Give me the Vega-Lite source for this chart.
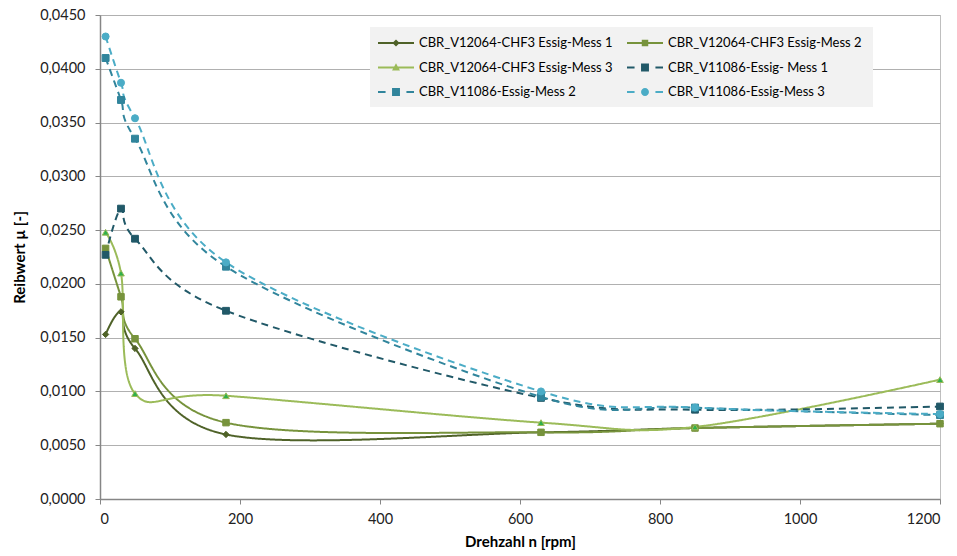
{
  "$schema": "https://vega.github.io/schema/vega-lite/v6.json",
  "autosize": "none",
  "padding": {"left": 100, "top": 15, "right": 17, "bottom": 57},
  "width": 840,
  "height": 484,
  "background": "white",
  "config": {
    "locale": {"number": {"decimal": ",", "thousands": ".", "grouping": [3], "currency": ["", " €"]}},
    "view": {"stroke": "#BFBFBF", "strokeWidth": 1},
    "font": "Lato",
    "axis": {
      "labelFont": "Lato",
      "labelFontSize": 14.5,
      "labelColor": "#222222",
      "titleFont": "Lato",
      "titleFontSize": 15,
      "titleFontWeight": "bold",
      "titleColor": "#000000",
      "domainColor": "#868686",
      "domainWidth": 1.5,
      "tickColor": "#868686",
      "tickSize": 5,
      "gridColor": "#B0B0B0",
      "gridWidth": 1.2
    }
  },
  "data": {
    "values": [
      {"series": "CBR_V12064-CHF3 Essig-Mess 1", "rpm": 8, "mu": 0.0153},
      {"series": "CBR_V12064-CHF3 Essig-Mess 1", "rpm": 30, "mu": 0.0174},
      {"series": "CBR_V12064-CHF3 Essig-Mess 1", "rpm": 50, "mu": 0.0140},
      {"series": "CBR_V12064-CHF3 Essig-Mess 1", "rpm": 180, "mu": 0.0060},
      {"series": "CBR_V12064-CHF3 Essig-Mess 1", "rpm": 630, "mu": 0.0062},
      {"series": "CBR_V12064-CHF3 Essig-Mess 1", "rpm": 850, "mu": 0.0066},
      {"series": "CBR_V12064-CHF3 Essig-Mess 1", "rpm": 1200, "mu": 0.0070},
      {"series": "CBR_V12064-CHF3  Essig-Mess 2", "rpm": 8, "mu": 0.0233},
      {"series": "CBR_V12064-CHF3  Essig-Mess 2", "rpm": 30, "mu": 0.0188},
      {"series": "CBR_V12064-CHF3  Essig-Mess 2", "rpm": 50, "mu": 0.0149},
      {"series": "CBR_V12064-CHF3  Essig-Mess 2", "rpm": 180, "mu": 0.0071},
      {"series": "CBR_V12064-CHF3  Essig-Mess 2", "rpm": 630, "mu": 0.0062},
      {"series": "CBR_V12064-CHF3  Essig-Mess 2", "rpm": 850, "mu": 0.0066},
      {"series": "CBR_V12064-CHF3  Essig-Mess 2", "rpm": 1200, "mu": 0.0070},
      {"series": "CBR_V12064-CHF3 Essig-Mess 3", "rpm": 8, "mu": 0.0248},
      {"series": "CBR_V12064-CHF3 Essig-Mess 3", "rpm": 30, "mu": 0.0210},
      {"series": "CBR_V12064-CHF3 Essig-Mess 3", "rpm": 50, "mu": 0.0098},
      {"series": "CBR_V12064-CHF3 Essig-Mess 3", "rpm": 180, "mu": 0.0096},
      {"series": "CBR_V12064-CHF3 Essig-Mess 3", "rpm": 630, "mu": 0.0071},
      {"series": "CBR_V12064-CHF3 Essig-Mess 3", "rpm": 850, "mu": 0.0067},
      {"series": "CBR_V12064-CHF3 Essig-Mess 3", "rpm": 1200, "mu": 0.0111},
      {"series": "CBR_V11086-Essig- Mess 1", "rpm": 8, "mu": 0.0227},
      {"series": "CBR_V11086-Essig- Mess 1", "rpm": 30, "mu": 0.0270},
      {"series": "CBR_V11086-Essig- Mess 1", "rpm": 50, "mu": 0.0242},
      {"series": "CBR_V11086-Essig- Mess 1", "rpm": 180, "mu": 0.0175},
      {"series": "CBR_V11086-Essig- Mess 1", "rpm": 630, "mu": 0.0094},
      {"series": "CBR_V11086-Essig- Mess 1", "rpm": 850, "mu": 0.0083},
      {"series": "CBR_V11086-Essig- Mess 1", "rpm": 1200, "mu": 0.0086},
      {"series": "CBR_V11086-Essig-Mess 2", "rpm": 8, "mu": 0.0410},
      {"series": "CBR_V11086-Essig-Mess 2", "rpm": 30, "mu": 0.0371},
      {"series": "CBR_V11086-Essig-Mess 2", "rpm": 50, "mu": 0.0335},
      {"series": "CBR_V11086-Essig-Mess 2", "rpm": 180, "mu": 0.0216},
      {"series": "CBR_V11086-Essig-Mess 2", "rpm": 630, "mu": 0.0095},
      {"series": "CBR_V11086-Essig-Mess 2", "rpm": 850, "mu": 0.0085},
      {"series": "CBR_V11086-Essig-Mess 2", "rpm": 1200, "mu": 0.0078},
      {"series": "CBR_V11086-Essig-Mess 3", "rpm": 8, "mu": 0.0430},
      {"series": "CBR_V11086-Essig-Mess 3", "rpm": 30, "mu": 0.0387},
      {"series": "CBR_V11086-Essig-Mess 3", "rpm": 50, "mu": 0.0354},
      {"series": "CBR_V11086-Essig-Mess 3", "rpm": 180, "mu": 0.0220},
      {"series": "CBR_V11086-Essig-Mess 3", "rpm": 630, "mu": 0.0100},
      {"series": "CBR_V11086-Essig-Mess 3", "rpm": 850, "mu": 0.0085},
      {"series": "CBR_V11086-Essig-Mess 3", "rpm": 1200, "mu": 0.0079}
    ]
  },
  "encoding": {
    "x": {
      "field": "rpm", "type": "quantitative",
      "scale": {"domain": [0, 1200], "nice": false},
      "axis": {"values": [0, 200, 400, 600, 800, 1000, 1200], "format": "d", "grid": false, "title": "Drehzahl n [rpm]", "labelPadding": 8, "titlePadding": 9}
    },
    "y": {
      "field": "mu", "type": "quantitative",
      "scale": {"domain": [0, 0.045], "nice": false},
      "axis": {"values": [0, 0.005, 0.01, 0.015, 0.02, 0.025, 0.03, 0.035, 0.04, 0.045], "format": ".4f", "title": "Reibwert µ [-]", "labelPadding": 10, "titlePadding": 12}
    }
  },
  "resolve": {
    "scale": {"shape": "independent", "size": "independent", "fill": "independent", "stroke": "independent", "strokeDash": "independent"},
    "legend": {"shape": "independent", "size": "independent", "fill": "independent", "stroke": "independent", "strokeDash": "independent"}
  },
  "layer": [
    {
      "mark": {"type": "line", "interpolate": "cardinal", "strokeWidth": 2},
      "encoding": {
        "color": {
          "field": "series", "type": "nominal",
          "scale": {
            "domain": ["CBR_V12064-CHF3 Essig-Mess 1", "CBR_V12064-CHF3  Essig-Mess 2", "CBR_V12064-CHF3 Essig-Mess 3", "CBR_V11086-Essig- Mess 1", "CBR_V11086-Essig-Mess 2", "CBR_V11086-Essig-Mess 3"],
            "range": ["#4F6228", "#77933C", "#9BBB59", "#215968", "#31859C", "#4BACC6"]
          },
          "legend": {
            "title": null,
            "orient": "none",
            "legendX": 270,
            "legendY": 12,
            "direction": "horizontal",
            "columns": 2,
            "columnPadding": 14,
            "rowPadding": 9.5,
            "padding": 8,
            "fillColor": "#F2F2F2",
            "symbolSize": 1296,
            "labelFont": "Lato",
            "labelFontSize": 13,
            "labelColor": "#000000",
            "labelOffset": 5,
            "labelLimit": 260,
            "encode": {
              "symbols": {
                "update": {
                  "shape": {"signal": "['M-1,-0.06L1,-0.06L1,0.06L-1,0.06Z M0,-0.2L0.2,0L0,0.2L-0.2,0Z', 'M-1,-0.06L1,-0.06L1,0.06L-1,0.06Z M-0.18,-0.18L0.18,-0.18L0.18,0.18L-0.18,0.18Z', 'M-1,-0.06L1,-0.06L1,0.06L-1,0.06Z M0,-0.24L0.22,0.16L-0.22,0.16Z', 'M-1,-0.06L-0.58,-0.06L-0.58,0.06L-1,0.06Z M-0.22,-0.22L0.22,-0.22L0.22,0.22L-0.22,0.22Z M0.58,-0.06L1,-0.06L1,0.06L0.58,0.06Z', 'M-1,-0.06L-0.58,-0.06L-0.58,0.06L-1,0.06Z M-0.22,-0.22L0.22,-0.22L0.22,0.22L-0.22,0.22Z M0.58,-0.06L1,-0.06L1,0.06L0.58,0.06Z', 'M-1,-0.06L-0.58,-0.06L-0.58,0.06L-1,0.06Z M0.22,0A0.22,0.22 0 1,1 -0.22,0A0.22,0.22 0 1,1 0.22,0Z M0.58,-0.06L1,-0.06L1,0.06L0.58,0.06Z'][datum.index]"},
                  "size": {"value": 1296},
                  "y": {"value": 8},
                  "fill": {"scale": "color", "field": "value"},
                  "stroke": {"value": "transparent"},
                  "strokeWidth": {"value": 0},
                  "strokeDash": {"value": [1, 0]},
                  "opacity": {"value": 1}
                }
              },
              "labels": {
                "update": {
                  "y": {"value": 8}
                }
              }
            }
          }
        },
        "strokeDash": {
          "field": "series", "type": "nominal",
          "scale": {
            "domain": ["CBR_V12064-CHF3 Essig-Mess 1", "CBR_V12064-CHF3  Essig-Mess 2", "CBR_V12064-CHF3 Essig-Mess 3", "CBR_V11086-Essig- Mess 1", "CBR_V11086-Essig-Mess 2", "CBR_V11086-Essig-Mess 3"],
            "range": [[1, 0], [1, 0], [1, 0], [7, 5], [7, 5], [7, 5]]
          },
          "legend": null
        }
      }
    },
    {
      "mark": {"type": "point", "filled": true, "opacity": 1, "strokeWidth": 1},
      "encoding": {
        "shape": {
          "field": "series", "type": "nominal",
          "scale": {
            "domain": ["CBR_V12064-CHF3 Essig-Mess 1", "CBR_V12064-CHF3  Essig-Mess 2", "CBR_V12064-CHF3 Essig-Mess 3", "CBR_V11086-Essig- Mess 1", "CBR_V11086-Essig-Mess 2", "CBR_V11086-Essig-Mess 3"],
            "range": ["diamond", "square", "triangle-up", "square", "square", "circle"]
          },
          "legend": null
        },
        "size": {
          "field": "series", "type": "nominal",
          "scale": {
            "domain": ["CBR_V12064-CHF3 Essig-Mess 1", "CBR_V12064-CHF3  Essig-Mess 2", "CBR_V12064-CHF3 Essig-Mess 3", "CBR_V11086-Essig- Mess 1", "CBR_V11086-Essig-Mess 2", "CBR_V11086-Essig-Mess 3"],
            "range": [40, 50, 45, 81, 81, 81]
          },
          "legend": null
        },
        "fill": {
          "field": "series", "type": "nominal",
          "scale": {
            "domain": ["CBR_V12064-CHF3 Essig-Mess 1", "CBR_V12064-CHF3  Essig-Mess 2", "CBR_V12064-CHF3 Essig-Mess 3", "CBR_V11086-Essig- Mess 1", "CBR_V11086-Essig-Mess 2", "CBR_V11086-Essig-Mess 3"],
            "range": ["#4F6228", "#77933C", "#2EB04A", "#215968", "#31859C", "#4BACC6"]
          },
          "legend": null
        },
        "stroke": {
          "field": "series", "type": "nominal",
          "scale": {
            "domain": ["CBR_V12064-CHF3 Essig-Mess 1", "CBR_V12064-CHF3  Essig-Mess 2", "CBR_V12064-CHF3 Essig-Mess 3", "CBR_V11086-Essig- Mess 1", "CBR_V11086-Essig-Mess 2", "CBR_V11086-Essig-Mess 3"],
            "range": ["#4F6228", "#77933C", "#9BBB59", "#215968", "#31859C", "#4BACC6"]
          },
          "legend": null
        }
      }
    }
  ]
}
